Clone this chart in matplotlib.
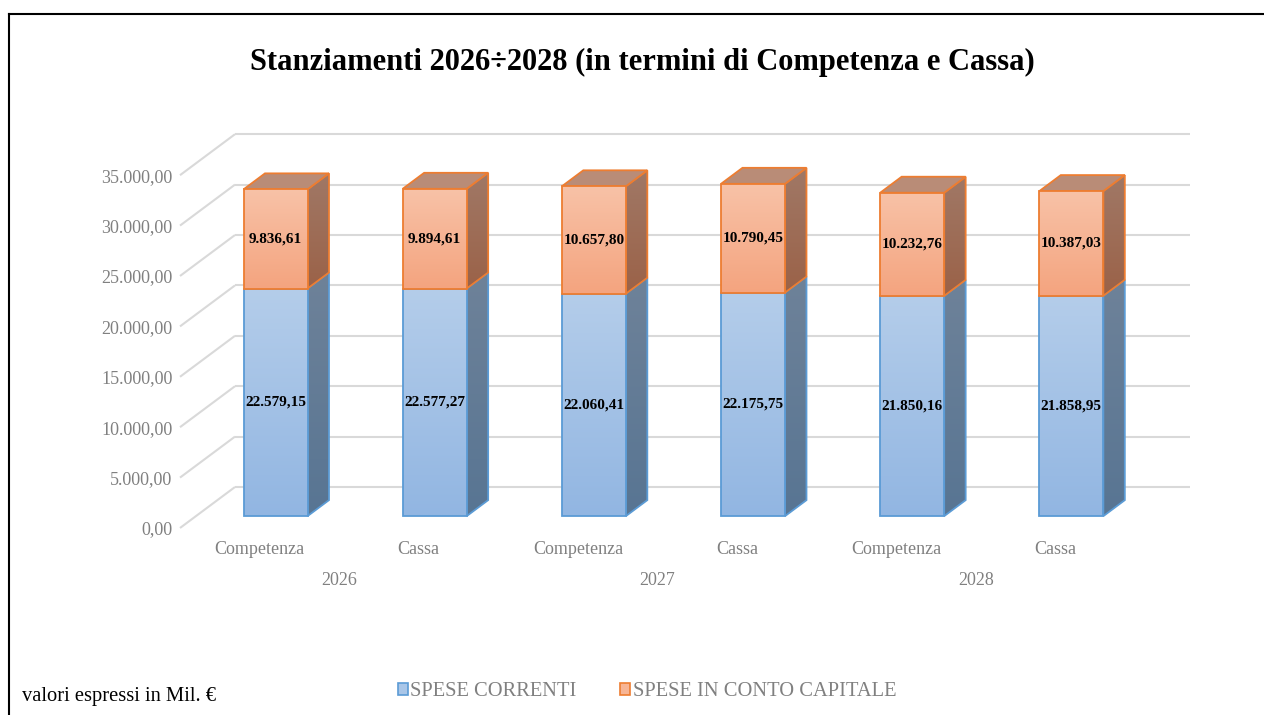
import matplotlib
matplotlib.use("Agg")
import matplotlib.pyplot as plt
import numpy as np
from matplotlib.patches import Polygon, Patch
from matplotlib.lines import Line2D
from matplotlib.colors import to_rgb

plt.rcParams['font.family'] = ['Liberation Serif', 'DejaVu Serif']

# ---------------- data ----------------
categories = ["Competenza", "Cassa", "Competenza", "Cassa", "Competenza", "Cassa"]
years = ["2026", "2027", "2028"]
spese_correnti = [22579.15, 22577.27, 22060.41, 22175.75, 21850.16, 21858.95]
spese_capitale = [9836.61, 9894.61, 10657.80, 10790.45, 10232.76, 10387.03]
y_ticks = [0, 5000, 10000, 15000, 20000, 25000, 30000, 35000]
series_names = ["SPESE CORRENTI", "SPESE IN CONTO CAPITALE"]
title = "Stanziamenti 2026÷2028 (in termini di Competenza e Cassa)"
note = "valori espressi in Mil. €"

# ---------------- layout constants (pixels) ----------------
W, H, DPI = 1264, 715, 100
AX_L, AX_R, AX_B = 180, 1190, 528
DEPTH_DX_PX, DEPTH_DY_PX = 55, 41
PX_PER_UNIT = 50.4 / 5000.0
n = len(categories)
cat_w_px = (AX_R - AX_L - DEPTH_DX_PX) / n
DXd = DEPTH_DX_PX / cat_w_px          # depth offset in category units
DYd = DEPTH_DY_PX / PX_PER_UNIT       # depth offset in value units
y_top = max(y_ticks) + DYd
ax_h_px = y_top * PX_PER_UNIT

BAR_W = 64 / cat_w_px
D_FRONT, D_BACK = 0.29, 0.68

def it_fmt(v):
    s = f"{v:,.2f}"
    return s.replace(",", "X").replace(".", ",").replace("X", ".")

fig = plt.figure(figsize=(W / DPI, H / DPI), dpi=DPI)
fig.patch.set_facecolor("white")
ax = fig.add_axes([AX_L / W, 1 - AX_B / H, (AX_R - AX_L) / W, ax_h_px / H])
ax.set_xlim(-0.5, n - 0.5 + DXd)
ax.set_ylim(0, y_top)
for s in ax.spines.values():
    s.set_visible(False)
ax.set_facecolor("none")

# ticks
ax.set_yticks(y_ticks)
ax.set_yticklabels([it_fmt(v) for v in y_ticks])
ax.set_xticks(range(n))
ax.set_xticklabels(categories)
ax.tick_params(axis="y", length=0, pad=5.5, labelsize=13, labelcolor="#808080")
ax.tick_params(axis="x", length=0, pad=9, labelsize=13, labelcolor="#808080")

# gridlines: back wall + left wall
grid_c = "#d9d9d9"
for v in y_ticks:
    ax.plot([-0.5 + DXd, n - 0.5 + DXd], [v + DYd, v + DYd], color=grid_c, lw=1.5,
            zorder=1, clip_on=False, solid_capstyle="butt")
    ax.plot([-0.5, -0.5 + DXd], [v, v + DYd], color=grid_c, lw=1.5,
            zorder=1, clip_on=False, solid_capstyle="butt")

# year labels
for i, yr in enumerate(years):
    ax.annotate(yr, xy=(2 * i + 0.5, 0), xytext=(0, -38), textcoords="offset points",
                ha="center", va="center", fontsize=13, color="#808080")

def grad_poly(verts, c_top, c_bot, z):
    verts = np.asarray(verts)
    x0, x1 = verts[:, 0].min(), verts[:, 0].max()
    y0, y1 = verts[:, 1].min(), verts[:, 1].max()
    ct, cb = np.array(to_rgb(c_top)), np.array(to_rgb(c_bot))
    t = np.linspace(0, 1, 64)[:, None]
    img = (ct[None, :] * (1 - t) + cb[None, :] * t)[:, None, :]
    im = ax.imshow(img, extent=[x0, x1, y0, y1], aspect="auto", origin="upper",
                   zorder=z, interpolation="bilinear")
    poly = Polygon(verts, closed=True, facecolor="none", edgecolor="none")
    ax.add_patch(poly)
    im.set_clip_path(poly)
    return im

def box(xc, y0, y1, front, side, top, edge, z, draw_top):
    xl = xc - BAR_W / 2 + D_FRONT * DXd
    xr = xc + BAR_W / 2 + D_FRONT * DXd
    dy0 = D_FRONT * DYd
    ddx = (D_BACK - D_FRONT) * DXd
    ddy = (D_BACK - D_FRONT) * DYd
    fv = [(xl, y0 + dy0), (xr, y0 + dy0), (xr, y1 + dy0), (xl, y1 + dy0)]
    sv = [(xr, y0 + dy0), (xr + ddx, y0 + dy0 + ddy), (xr + ddx, y1 + dy0 + ddy), (xr, y1 + dy0)]
    tv = [(xl, y1 + dy0), (xr, y1 + dy0), (xr + ddx, y1 + dy0 + ddy), (xl + ddx, y1 + dy0 + ddy)]
    grad_poly(sv, side[0], side[1], z)
    ax.add_patch(Polygon(sv, closed=True, facecolor="none", edgecolor=edge, lw=1.3, zorder=z + 0.1))
    if draw_top:
        ax.add_patch(Polygon(tv, closed=True, facecolor=top, edgecolor=edge, lw=1.3, zorder=z + 0.1))
    grad_poly(fv, front[0], front[1], z + 0.2)
    ax.add_patch(Polygon(fv, closed=True, facecolor="none", edgecolor=edge, lw=1.3, zorder=z + 0.3))
    return (xl + xr) / 2, dy0

blue_front = ("#b4cdea", "#92b6e2")
blue_side = ("#6e8299", "#587593")
blue_edge = "#5b9bd5"
or_front = ("#f8c2a7", "#f4a47f")
or_side = ("#a07866", "#9b6248")
or_top = "#b98c77"
or_edge = "#ed7d31"

for i in range(n):
    a, b = spese_correnti[i], spese_capitale[i]
    cx, dy0 = box(i, 0, a, blue_front, blue_side, None, blue_edge, 3, False)
    box(i, a, a + b, or_front, or_side, or_top, or_edge, 5, True)
    ax.text(cx, a / 2 + dy0, it_fmt(a), ha="center", va="center", fontsize=11,
            fontweight="bold", color="black", zorder=10)
    ax.text(cx, a + b / 2 + dy0, it_fmt(b), ha="center", va="center", fontsize=11,
            fontweight="bold", color="black", zorder=10)

# title
fig.text(642 / W, 1 - 62 / H, title, ha="center", va="center", fontsize=22,
         fontweight="bold", color="black")

# legend
handles = [Patch(facecolor="#a9c6e8", edgecolor=blue_edge, lw=1.2, label=series_names[0]),
           Patch(facecolor="#f7b595", edgecolor=or_edge, lw=1.2, label=series_names[1])]
leg = fig.legend(handles=handles, loc="center", bbox_to_anchor=(647 / W, 1 - 692 / H),
                 ncol=2, frameon=False, fontsize=14.8, handlelength=0.5, handleheight=0.5,
                 handletextpad=0.12, columnspacing=2.1, labelcolor="#808080")

# note
fig.text(22 / W, 1 - 697 / H, note, ha="left", va="center", fontsize=14.8, color="black")

# border (left and top)
fig.add_artist(Line2D([9 / W, 9 / W], [0, 1 - 14 / H], color="black", lw=1.5,
                      transform=fig.transFigure))
fig.add_artist(Line2D([9 / W, 1], [1 - 14 / H, 1 - 14 / H], color="black", lw=1.5,
                      transform=fig.transFigure))

fig.savefig("out.png", dpi=DPI)
